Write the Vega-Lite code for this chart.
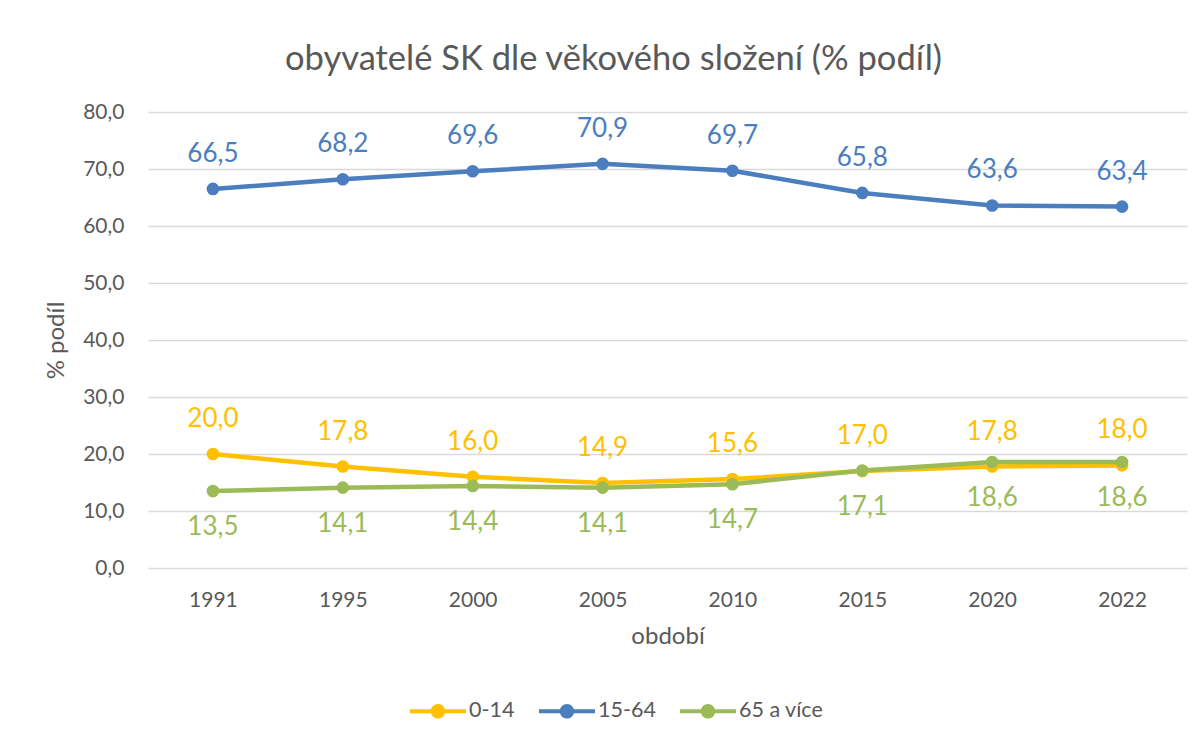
{
  "$schema": "https://vega.github.io/schema/vega-lite/v6.json",
  "autosize": "none",
  "width": 1039,
  "height": 456,
  "padding": {"left": 148, "top": 112, "right": 17, "bottom": 172},
  "background": "white",
  "title": {
    "text": "obyvatelé SK dle věkového složení (% podíl)",
    "font": "Lato",
    "fontSize": 34.5,
    "fontWeight": "normal",
    "color": "#595959",
    "anchor": "middle",
    "dx": -54,
    "offset": 24
  },
  "config": {
    "font": "Lato",
    "locale": {
      "number": {"decimal": ",", "thousands": " ", "grouping": [3], "currency": ["", " Kč"]}
    },
    "view": {"stroke": null},
    "axis": {
      "labelFont": "Lato",
      "titleFont": "Lato",
      "labelColor": "#595959",
      "titleColor": "#595959",
      "labelFontSize": 21,
      "titleFontSize": 24,
      "titleFontWeight": "normal",
      "ticks": false,
      "gridColor": "#D9D9D9",
      "gridWidth": 1.3
    },
    "legend": {"labelFont": "Lato", "labelFontSize": 21.5, "labelColor": "#595959"}
  },
  "data": {
    "values": [
      {"rok": "1991", "skupina": "0-14", "podil": 20.0, "pos": "above"},
      {"rok": "1995", "skupina": "0-14", "podil": 17.8, "pos": "above"},
      {"rok": "2000", "skupina": "0-14", "podil": 16.0, "pos": "above"},
      {"rok": "2005", "skupina": "0-14", "podil": 14.9, "pos": "above"},
      {"rok": "2010", "skupina": "0-14", "podil": 15.6, "pos": "above"},
      {"rok": "2015", "skupina": "0-14", "podil": 17.0, "pos": "above"},
      {"rok": "2020", "skupina": "0-14", "podil": 17.8, "pos": "above"},
      {"rok": "2022", "skupina": "0-14", "podil": 18.0, "pos": "above"},
      {"rok": "1991", "skupina": "15-64", "podil": 66.5, "pos": "above"},
      {"rok": "1995", "skupina": "15-64", "podil": 68.2, "pos": "above"},
      {"rok": "2000", "skupina": "15-64", "podil": 69.6, "pos": "above"},
      {"rok": "2005", "skupina": "15-64", "podil": 70.9, "pos": "above"},
      {"rok": "2010", "skupina": "15-64", "podil": 69.7, "pos": "above"},
      {"rok": "2015", "skupina": "15-64", "podil": 65.8, "pos": "above"},
      {"rok": "2020", "skupina": "15-64", "podil": 63.6, "pos": "above"},
      {"rok": "2022", "skupina": "15-64", "podil": 63.4, "pos": "above"},
      {"rok": "1991", "skupina": "65 a více", "podil": 13.5, "pos": "below"},
      {"rok": "1995", "skupina": "65 a více", "podil": 14.1, "pos": "below"},
      {"rok": "2000", "skupina": "65 a více", "podil": 14.4, "pos": "below"},
      {"rok": "2005", "skupina": "65 a více", "podil": 14.1, "pos": "below"},
      {"rok": "2010", "skupina": "65 a více", "podil": 14.7, "pos": "below"},
      {"rok": "2015", "skupina": "65 a více", "podil": 17.1, "pos": "below"},
      {"rok": "2020", "skupina": "65 a více", "podil": 18.6, "pos": "below"},
      {"rok": "2022", "skupina": "65 a více", "podil": 18.6, "pos": "below"}
    ]
  },
  "encoding": {
    "x": {
      "field": "rok",
      "type": "ordinal",
      "scale": {"type": "point", "padding": 0.5},
      "sort": null,
      "axis": {
        "title": "období",
        "labelAngle": 0,
        "labelPadding": 21,
        "titlePadding": 14,
        "grid": false,
        "domain": false
      }
    },
    "y": {
      "field": "podil",
      "type": "quantitative",
      "scale": {"domain": [0, 80], "nice": false},
      "axis": {
        "title": "% podíl",
        "values": [0, 10, 20, 30, 40, 50, 60, 70, 80],
        "format": ".1f",
        "labelPadding": 24,
        "titlePadding": 14,
        "domain": false
      }
    },
    "color": {
      "field": "skupina",
      "type": "nominal",
      "scale": {
        "domain": ["0-14", "15-64", "65 a více"],
        "range": ["#FFC000", "#4A7EBF", "#9BBB59"]
      },
      "legend": {
        "title": null,
        "orient": "none",
        "direction": "horizontal",
        "legendX": 262,
        "legendY": 571,
        "symbolType": "M-1,-0.075 L1,-0.075 L1,0.075 L-1,0.075 Z M0.26,0 A0.26,0.26 0 1,1 -0.26,0 A0.26,0.26 0 1,1 0.26,0 Z",
        "symbolSize": 3136,
        "symbolStrokeWidth": 0,
        "labelOffset": 3,
        "columnPadding": 24,
        "encode": {
          "symbols": {
            "update": {
              "fill": {"scale": "color", "field": "value"},
              "fillOpacity": {"value": 1},
              "strokeWidth": {"value": 0}
            }
          }
        }
      }
    }
  },
  "layer": [
    {
      "mark": {"type": "line", "strokeWidth": 4.5, "strokeCap": "round", "strokeJoin": "round"},
      "encoding": {
        "order": {"field": "rok"},
        "detail": {"field": "skupina"}
      }
    },
    {
      "mark": {"type": "point", "filled": true, "size": 160, "opacity": 1},
      "encoding": {
        "color": {
          "field": "skupina",
          "type": "nominal",
          "scale": {
            "domain": ["0-14", "15-64", "65 a více"],
            "range": ["#FFC000", "#4A7EBF", "#9BBB59"]
          },
          "legend": null
        }
      }
    },
    {
      "transform": [{"filter": "datum.pos == 'above'"}],
      "mark": {"type": "text", "fontSize": 26, "dy": -35, "baseline": "middle", "font": "Lato"},
      "encoding": {
        "text": {"field": "podil", "type": "quantitative", "format": ".1f"},
        "color": {"field": "skupina", "type": "nominal", "legend": null}
      }
    },
    {
      "transform": [{"filter": "datum.pos == 'below'"}],
      "mark": {"type": "text", "fontSize": 26, "dy": 36, "baseline": "middle", "font": "Lato"},
      "encoding": {
        "text": {"field": "podil", "type": "quantitative", "format": ".1f"},
        "color": {"field": "skupina", "type": "nominal", "legend": null}
      }
    }
  ]
}
